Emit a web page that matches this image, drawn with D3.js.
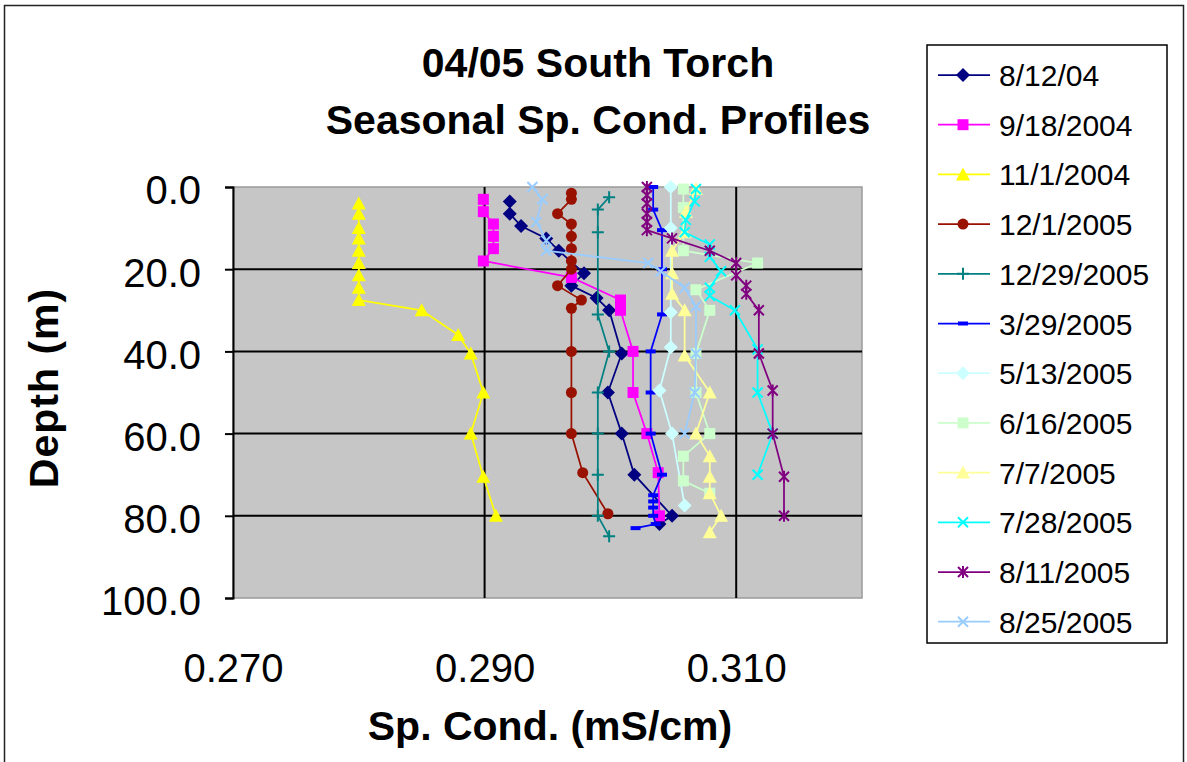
<!DOCTYPE html>
<html>
<head>
<meta charset="utf-8">
<script src="https://cdn.jsdelivr.net/npm/d3@7"></script>
<style>
  body { margin: 0; background: #fff; }
  text { font-family: "Liberation Sans", Arial, sans-serif; fill: #000; }
  .title, .axis-title { font-weight: bold; font-size: 41px; }
  .tick text { font-size: 40px; font-family: "Liberation Sans", Arial, sans-serif; }
  .legend-label { font-size: 30px; }
</style>
</head>
<body>
<svg id="chart" width="1187" height="762"></svg>
<script>
var dates = ["8/12/04", "9/18/2004", "11/1/2004", "12/1/2005", "12/29/2005", "3/29/2005",
             "5/13/2005", "6/16/2005", "7/7/2005", "7/28/2005", "8/11/2005", "8/25/2005"];

// depth (m) and sp. cond. (mS/cm)
var depth_081204 = [3.5, 6.5, 9.5, 12.5, 15.5, 21, 24, 27, 30, 40.5, 50, 60, 70, 80, 82];
var cond_081204  = [0.2920, 0.2920, 0.2929, 0.2949, 0.2959, 0.2979, 0.2969, 0.2989, 0.2999, 0.3009, 0.2998, 0.3009, 0.3019, 0.3049, 0.3039];

var depth_091804 = [3, 6, 9, 12, 15, 18, 22, 27.5, 30, 40, 50, 60, 69.5, 80];
var cond_091804  = [0.2899, 0.2899, 0.2907, 0.2907, 0.2907, 0.2899, 0.2969, 0.3008, 0.3008, 0.3018, 0.3018, 0.3029, 0.3038, 0.3039];

var depth_110104 = [4, 6.5, 10, 12.5, 15.5, 18.5, 21.5, 24.5, 27.5, 30, 36, 40.5, 50, 60, 70.5, 80];
var cond_110104  = [0.2800, 0.2800, 0.2800, 0.2800, 0.2800, 0.2800, 0.2800, 0.2800, 0.2800, 0.2850, 0.2879, 0.2889, 0.2899, 0.2889, 0.2899, 0.2909];

var depth_120105 = [1.5, 3, 6.5, 9, 12, 15, 18, 20, 24, 27.5, 29.5, 40, 50, 60, 69.5, 79.5];
var cond_120105  = [0.2969, 0.2969, 0.2958, 0.2969, 0.2969, 0.2969, 0.2969, 0.2969, 0.2958, 0.2977, 0.2969, 0.2969, 0.2969, 0.2969, 0.2978, 0.2998];

var depth_122905 = [2.5, 5.5, 11, 31, 40, 50, 60, 70, 80, 85];
var cond_122905  = [0.2999, 0.2990, 0.2990, 0.2990, 0.2999, 0.2990, 0.2990, 0.2990, 0.2990, 0.2999];

var depth_032905 = [0, 5.5, 10.5, 20, 31, 40, 50, 60, 70, 75, 76.5, 78, 80, 82, 83];
var cond_032905  = [0.3034, 0.3034, 0.3041, 0.3041, 0.3041, 0.3032, 0.3032, 0.3032, 0.3041, 0.3034, 0.3034, 0.3034, 0.3034, 0.3036, 0.3020];

var depth_051305 = [0, 10, 30.5, 39, 49.5, 60, 77.5];
var cond_051305  = [0.3048, 0.3048, 0.3048, 0.3048, 0.3039, 0.3049, 0.3059];

var depth_061605 = [0.5, 5, 15.5, 18.5, 25, 30, 40.5, 50, 60, 65.5, 71.5, 74.5];
var cond_061605  = [0.3058, 0.3058, 0.3058, 0.3117, 0.3068, 0.3079, 0.3068, 0.3068, 0.3079, 0.3058, 0.3058, 0.3079];

var depth_070705 = [0.5, 6, 11, 15.5, 21, 26, 30, 41, 50, 60, 65.5, 70.5, 74.5, 80, 84];
var cond_070705  = [0.3068, 0.3060, 0.3059, 0.3049, 0.3049, 0.3049, 0.3059, 0.3059, 0.3079, 0.3068, 0.3079, 0.3079, 0.3079, 0.3088, 0.3079];

var depth_072805 = [0.5, 3.5, 8, 11, 14, 17, 20.5, 24.5, 26.5, 30, 39.5, 50, 60, 70];
var cond_072805  = [0.3068, 0.3067, 0.3060, 0.3059, 0.3079, 0.3079, 0.3088, 0.3079, 0.3079, 0.3099, 0.3117, 0.3117, 0.3129, 0.3117];

var depth_081105 = [0, 2, 4, 6.5, 8.5, 10.5, 12.5, 15.5, 18.5, 21.5, 24, 26, 30, 40.5, 49.5, 60, 70.5, 80];
var cond_081105  = [0.3029, 0.3029, 0.3029, 0.3029, 0.3029, 0.3029, 0.3049, 0.3079, 0.3100, 0.3100, 0.3108, 0.3108, 0.3118, 0.3118, 0.3129, 0.3129, 0.3138, 0.3138];

var depth_082505 = [0, 3, 8.5, 13, 15.5, 18.5, 20.5, 24.5, 29, 40.5, 50, 60];
var cond_082505  = [0.2938, 0.2946, 0.2941, 0.2949, 0.2949, 0.3030, 0.3040, 0.3059, 0.3068, 0.3068, 0.3067, 0.3059];

var xTicks = [0.270, 0.290, 0.310];
var yTicks = [0, 20, 40, 60, 80, 100];

var depths = [depth_081204, depth_091804, depth_110104, depth_120105, depth_122905, depth_032905,
              depth_051305, depth_061605, depth_070705, depth_072805, depth_081105, depth_082505];
var conds = [cond_081204, cond_091804, cond_110104, cond_120105, cond_122905, cond_032905,
             cond_051305, cond_061605, cond_070705, cond_072805, cond_081105, cond_082505];

// excel-ish series styles
var Color_ = ["#000080", "#ff00ff", "#ffff00", "#991100", "#008080", "#0000ff",
              "#ccffff", "#ccffcc", "#ffff99", "#00ffff", "#800080", "#99ccff"];
var Shape_ = ["diamond", "square", "triangle", "circle", "plus", "dash",
              "diamond", "square", "triangle", "x", "star", "x"];

var series = dates.map(function(name, i) {
  return {id: i, name: name,
          pts: depths[i].map(function(d, j) { return {depth: d, cond: conds[i][j]}; })};
});

var svg = d3.select("#chart");

var L = 233, R = 862, T = 187, B = 598;
var x = d3.scaleLinear().domain([0.270, 0.320]).range([L, R]);
var y = d3.scaleLinear().domain([0, 100]).range([T, B]);

// outer frame
svg.append("rect")
  .attr("x", 4.5).attr("y", 5.5)
  .attr("width", 1179).attr("height", 800)
  .attr("fill", "#fff")
  .attr("stroke", "#222")
  .attr("stroke-width", 1.5);

// plot area
svg.append("rect")
  .attr("x", L).attr("y", T)
  .attr("width", R - L).attr("height", B - T)
  .attr("fill", "#c6c6c6")
  .attr("stroke", "#9a9a9a")
  .attr("stroke-width", 1.5);

svg.append("g").attr("class", "grid")
  .selectAll("line.gx").data(xTicks.filter(function(t) { return t > 0.270; }))
  .enter().append("line")
  .attr("x1", function(d) { return x(d); }).attr("x2", function(d) { return x(d); })
  .attr("y1", T).attr("y2", B)
  .attr("stroke", "#000").attr("stroke-width", 2);

svg.append("g").attr("class", "grid")
  .selectAll("line.gy").data(yTicks.filter(function(t) { return t > 0 && t < 100; }))
  .enter().append("line")
  .attr("x1", L).attr("x2", R)
  .attr("y1", function(d) { return y(d); }).attr("y2", function(d) { return y(d); })
  .attr("stroke", "#000").attr("stroke-width", 2);

// axes
var yAxis = svg.append("g")
  .attr("transform", "translate(" + L + ",0)")
  .call(d3.axisLeft(y).tickValues(yTicks).tickFormat(d3.format(".1f"))
        .tickSize(8).tickPadding(24));
yAxis.select(".domain").attr("stroke", "#000").attr("stroke-width", 2);
yAxis.selectAll(".tick line").attr("stroke", "#000").attr("stroke-width", 2);
yAxis.selectAll(".tick text").attr("dy", "0.42em");

var xAxis = svg.append("g")
  .attr("transform", "translate(0," + B + ")")
  .call(d3.axisBottom(x).tickValues(xTicks).tickFormat(d3.format(".3f"))
        .tickSize(0).tickPadding(56));
xAxis.select(".domain").remove();

function marker(shape) {
  switch (shape) {
    case "diamond": return "M0,-7L7,0L0,7L-7,0Z";
    case "square": return "M-5.5,-5.5H5.5V5.5H-5.5Z";
    case "triangle": return "M0,-7L7,6L-7,6Z";
    case "circle": return "M-5.5,0A5.5,5.5 0 1,0 5.5,0A5.5,5.5 0 1,0 -5.5,0Z";
    case "dash": return "M-5,-2H5V2H-5Z";
    case "plus": return "M-6,0H6M0,-6V6";
    case "x": return "M-5,-5L5,5M5,-5L-5,5";
    case "star": return "M-5,-5L5,5M5,-5L-5,5M0,-6V6";
  }
}
function stroked(shape) { return shape == "plus" || shape == "x" || shape == "star"; }

var line = d3.line()
  .x(function(d) { return x(d.cond); })
  .y(function(d) { return y(d.depth); });

var g = svg.selectAll(".series")
  .data(series)
  .enter().append("g")
  .attr("class", function(d) { return "series s-" + d.id; });

g.append("path")
  .attr("d", function(d) { return line(d.pts); })
  .attr("fill", "none")
  .attr("stroke", function(d) { return Color_[d.id]; })
  .attr("stroke-width", 1.75);

g.each(function(s) {
  d3.select(this).selectAll(".mk")
    .data(s.pts)
    .enter().append("path")
    .attr("class", "mk")
    .attr("transform", function(d) { return "translate(" + x(d.cond) + "," + y(d.depth) + ")"; })
    .attr("d", marker(Shape_[s.id]))
    .attr("fill", stroked(Shape_[s.id]) ? "none" : Color_[s.id])
    .attr("stroke", Color_[s.id])
    .attr("stroke-width", stroked(Shape_[s.id]) ? 2 : 0);
});

// titles
svg.append("text").attr("class", "title")
  .attr("x", 598).attr("y", 77).attr("text-anchor", "middle")
  .text("04/05 South Torch");
svg.append("text").attr("class", "title")
  .attr("x", 598).attr("y", 134).attr("text-anchor", "middle")
  .text("Seasonal Sp. Cond. Profiles");
svg.append("text").attr("class", "axis-title")
  .attr("x", 550).attr("y", 740).attr("text-anchor", "middle")
  .text("Sp. Cond. (mS/cm)");
svg.append("text").attr("class", "axis-title")
  .attr("transform", "translate(58,388) rotate(-90)")
  .attr("text-anchor", "middle")
  .attr("letter-spacing", 1)
  .text("Depth (m)");

// legend
var lg = svg.append("g").attr("class", "legend");
lg.append("rect")
  .attr("x", 927).attr("y", 45)
  .attr("width", 240).attr("height", 598)
  .attr("fill", "#fff")
  .attr("stroke", "#000")
  .attr("stroke-width", 1.5);

var item = lg.selectAll(".item")
  .data(series)
  .enter().append("g")
  .attr("class", "item")
  .attr("transform", function(d, i) { return "translate(0," + (75 + i * 49.7) + ")"; });

item.append("line")
  .attr("x1", 938).attr("x2", 990)
  .attr("stroke", function(d) { return Color_[d.id]; })
  .attr("stroke-width", 1.75);
item.append("path")
  .attr("transform", "translate(963,0)")
  .attr("d", function(d) { return marker(Shape_[d.id]); })
  .attr("fill", function(d) { return stroked(Shape_[d.id]) ? "none" : Color_[d.id]; })
  .attr("stroke", function(d) { return Color_[d.id]; })
  .attr("stroke-width", function(d) { return stroked(Shape_[d.id]) ? 2 : 0; });
item.append("text")
  .attr("class", "legend-label")
  .attr("x", 999).attr("y", 11)
  .text(function(d) { return d.name; });
</script>
</body>
</html>
